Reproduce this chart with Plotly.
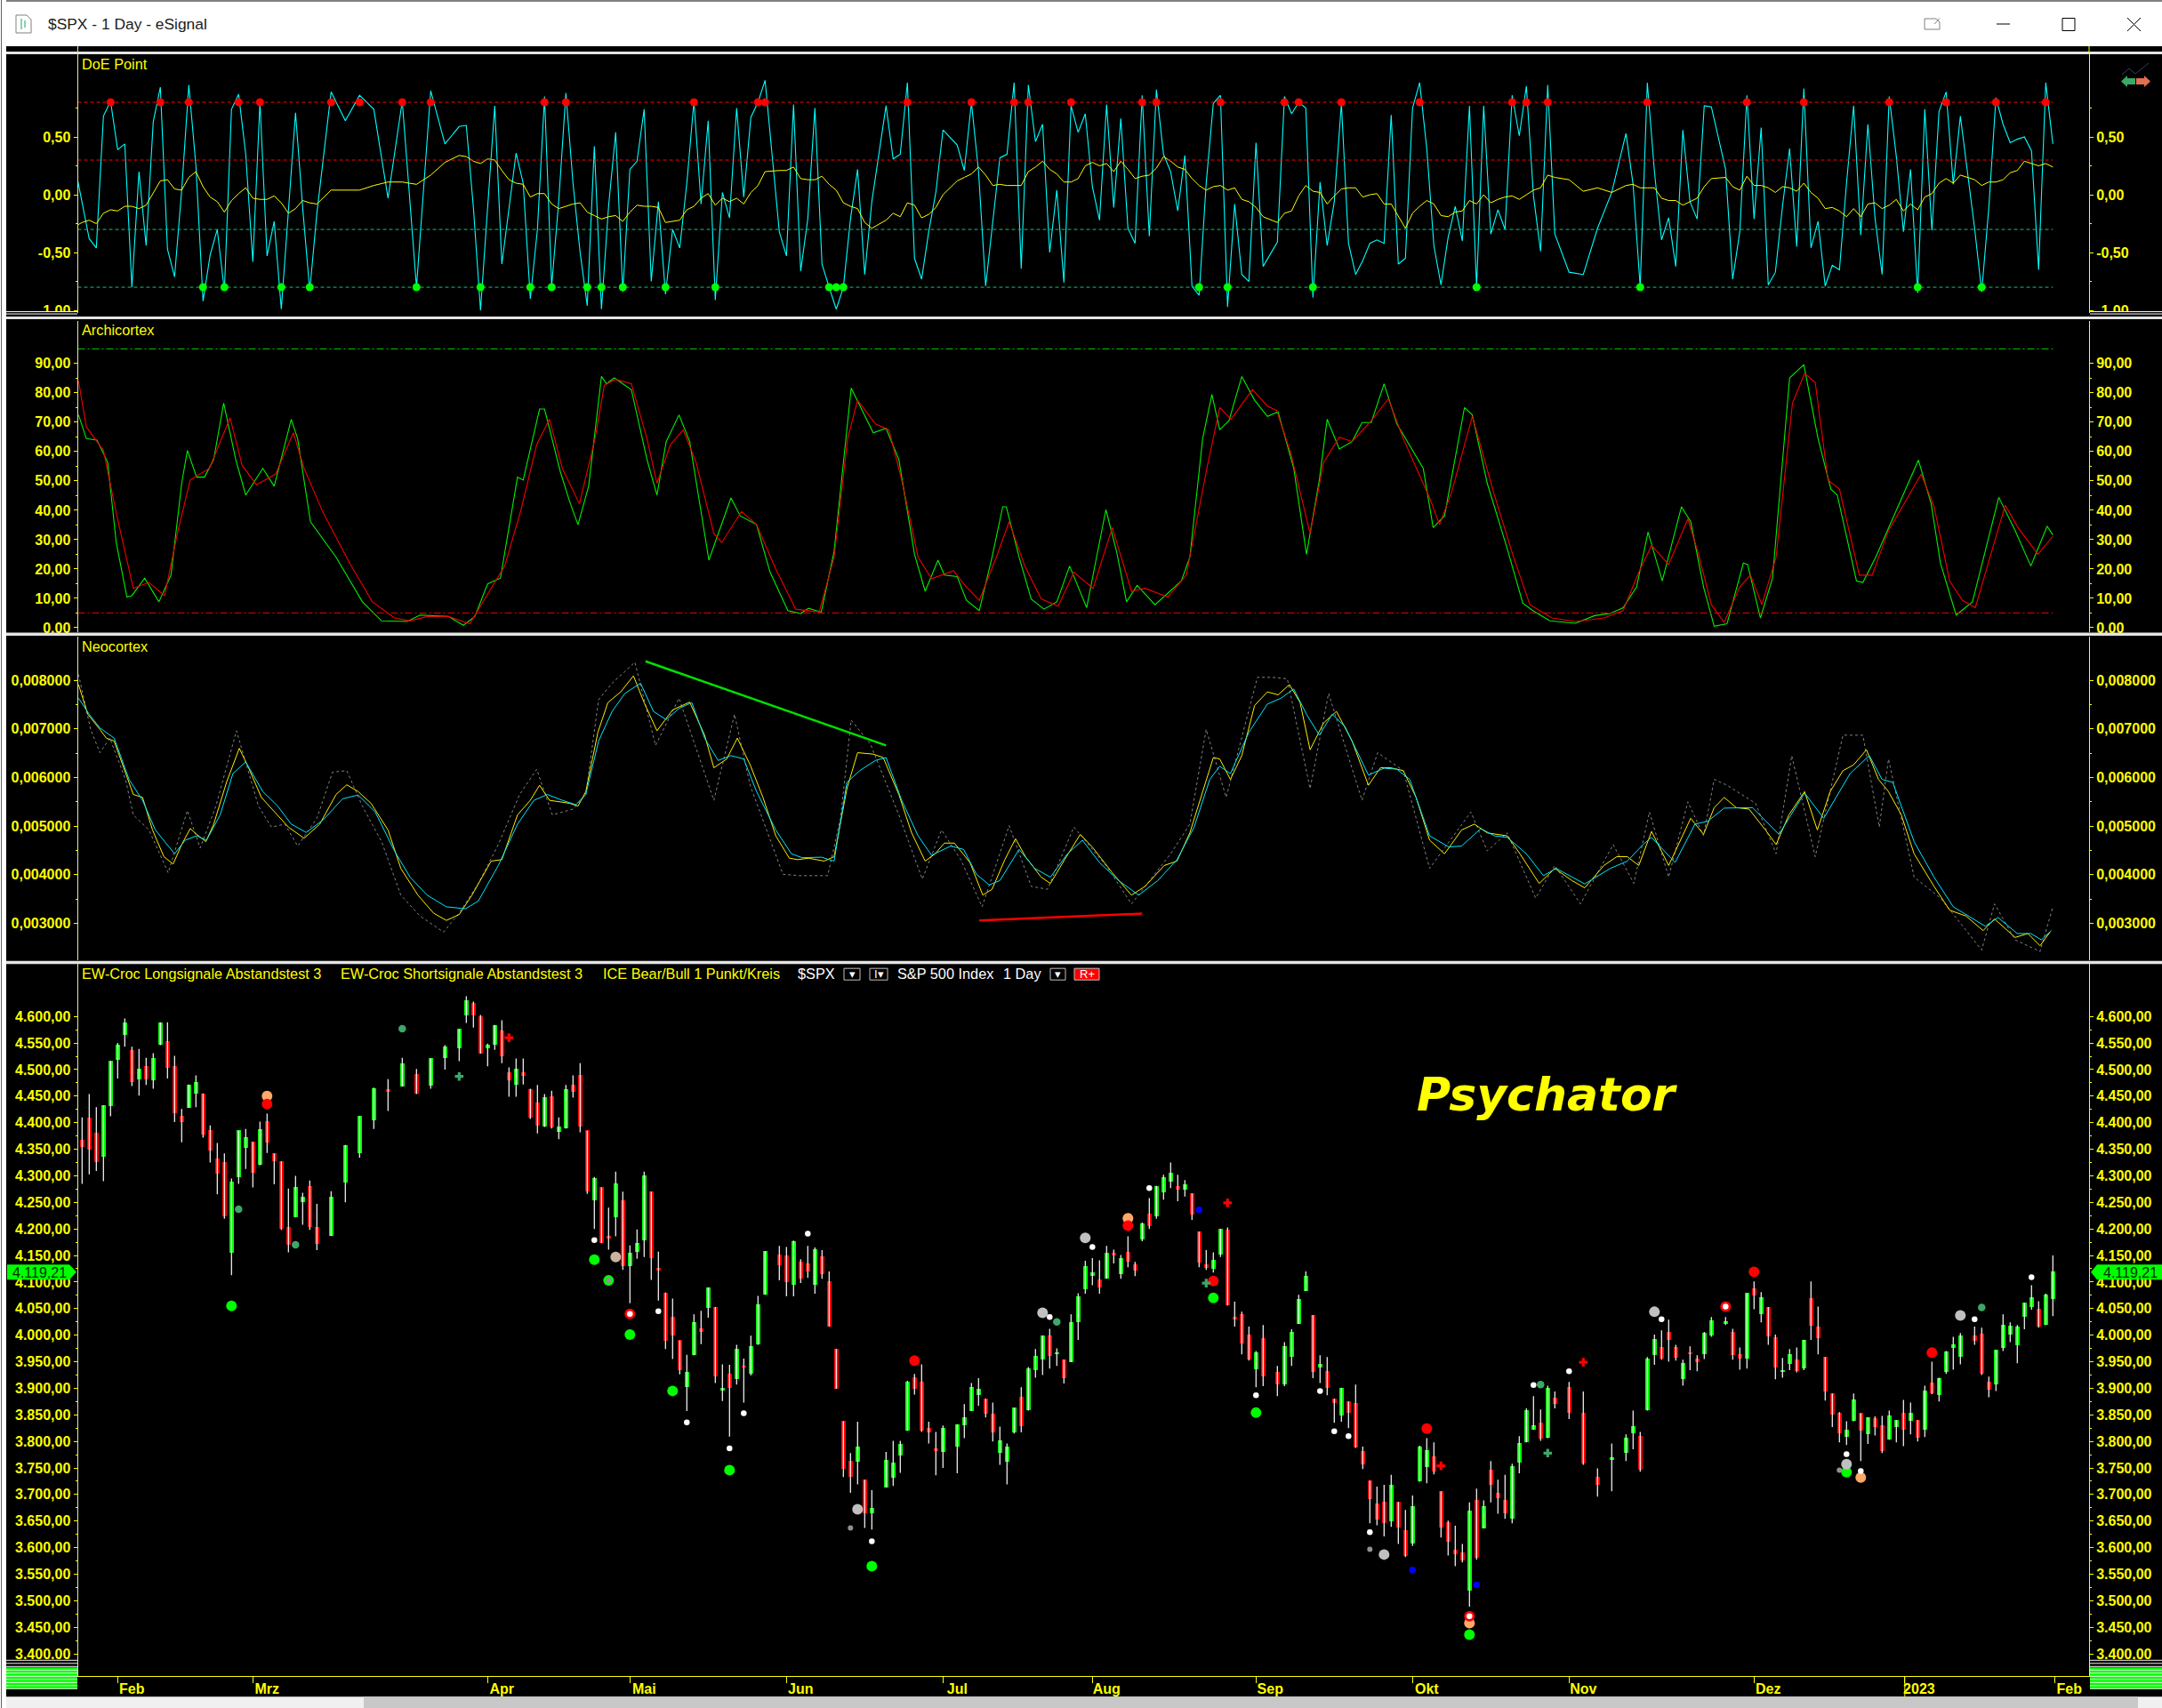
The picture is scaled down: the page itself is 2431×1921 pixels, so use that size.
import plotly.graph_objects as go

W, H = 2431, 1921
Y_SCALE = 1.0033   # the photographed page comes out a hair short vertically

# ---------------------------------------------------------------- data
slots = [*range(0, 34),
         35, 37, 39, 41, 43, 45, 47, 49, 51,
         *range(53, 97), *range(98, 112), *range(113, 122),
         *range(123, 167), *range(168, 208),
         209, 211, 213, 215,
         *range(217, 230), *range(231, 265), *range(266, 278)]

direction = ("rrrggggrgrggrrrggrrrrgggrgrrrrggrr" "ggggrgrgg"
             "ggrrggrrgrrrgrggrrrgrrgrgggrrrrrggrgrgrgrggg" "rrgrrgrrrrrgrg" "ggggrrrrg"
             "ggggrrgggrgggrgrggggrgrgrrgrgggrgrrrggrrrrgr"
             "rggggrgrrgrrrrrrgrrgggrrrrrgrgrrrggggrgr" "rrrg" "ggrggrrrgrrgg"
             "grrgrgrrggrgrrrrrggrgrrggrgrgrgggg" "rrrggggggrgg")

tops = [4367,4409,4380,4432,4516,4546,4589,4536,4501,4506,4521,4588,4553,4506,4412,4471,4476,4455,4385,4333,4325,4288,4385,4373,4364,4387,4402,4342,4327,4203,4278,4260,4280,4203,
        4261,4358,4412,4464,4462,4512,4492,4521,4543,
        4576,4631,4625,4600,4546,4583,4573,4494,4501,4494,4462,4437,4447,4449,4392,4462,4472,4489,4385,4296,4278,4186,4286,4253,4154,4174,4300,4270,4127,4080,4035,3990,3930,4024,4012,4089,4053,3900,3927,3974,3943,3979,4058,4158,
        4151,4150,4176,4138,4135,4161,4148,4101,3974,3838,3763,3790,3728,3674,
        3765,3760,3795,3912,3920,3912,3825,3786,3825,
        3832,3845,3902,3899,3880,3852,3801,3790,3863,3883,3937,3960,3999,3999,3967,3954,4024,4073,4130,4118,4104,4155,4155,4145,4156,4133,4210,4229,4281,4297,4306,4281,4284,4267,4195,4133,4142,4200,4199,4035,4040,4000,3967,3994,
        3931,3979,4006,4068,4111,4038,3945,3932,3880,3901,3875,3872,3781,3726,3683,3686,3718,3686,3633,3678,3790,3783,3771,3706,3648,3596,3590,3669,3689,3678,3746,3703,3689,3753,3797,3858,3830,3835,3901,3882,
        3902,3853,3733,3770,
        3806,3828,3810,3955,3992,3977,4006,3977,3947,3966,3955,4004,4027,
        4026,4006,3964,4079,4088,4071,4053,3996,3934,3964,3954,3991,4069,4016,3959,3890,3853,3822,3878,3853,3845,3843,3830,3848,3840,3853,3853,3840,3895,3910,3919,3969,3982,3999,
        3999,4002,3912,3972,4019,4017,4016,4061,4071,4049,4076,4119]

bottoms = [4354,4349,4325,4335,4431,4518,4565,4476,4481,4482,4479,4546,4503,4418,4401,4428,4454,4378,4347,4304,4223,4155,4297,4352,4305,4320,4362,4327,4200,4170,4222,4251,4203,4171,
           4187,4287,4343,4405,4459,4468,4454,4469,4521,
           4540,4602,4602,4530,4539,4546,4525,4479,4472,4488,4410,4395,4392,4390,4383,4389,4458,4392,4270,4253,4173,4183,4221,4130,4130,4157,4179,4145,4121,3989,3999,3934,3902,3962,4006,4051,3922,3897,3900,3917,3940,3927,3982,4076,
           4131,4099,4094,4106,4120,4094,4114,4016,3899,3748,3733,3761,3664,3664,
           3713,3731,3773,3820,3899,3820,3817,3783,3780,
           3790,3830,3857,3887,3852,3817,3778,3761,3817,3828,3858,3934,3954,3960,3964,3919,3949,4024,4086,4111,4089,4106,4150,4114,4138,4121,4180,4205,4224,4269,4289,4273,4273,4227,4136,4127,4125,4152,4056,4029,3984,3954,3936,3922,
           3907,3907,3959,4021,4083,3931,3939,3901,3872,3849,3853,3788,3756,3691,3653,3646,3649,3637,3584,3607,3724,3751,3743,3637,3611,3587,3576,3519,3581,3636,3718,3693,3664,3654,3760,3798,3822,3805,3806,3870,
           3853,3758,3718,3765,
           3778,3815,3746,3858,3962,3955,3991,3957,3917,3964,3949,3964,3999,
           4021,3962,3955,3955,4074,4039,3997,3939,3932,3945,3932,3937,4017,3994,3894,3850,3815,3808,3838,3820,3813,3827,3781,3803,3827,3822,3838,3806,3822,3890,3887,3930,3976,3959,
           3989,3927,3897,3907,3976,4001,3981,4034,4053,4016,4019,4068]

highs = [4410,4454,4429,4432,4516,4550,4596,4543,4539,4522,4531,4589,4589,4526,4426,4472,4489,4455,4395,4362,4342,4295,4385,4388,4364,4402,4417,4342,4327,4276,4300,4268,4291,4247,
         4271,4358,4412,4466,4482,4522,4501,4521,4546,
         4576,4638,4628,4603,4549,4584,4593,4504,4521,4521,4464,4471,4454,4460,4410,4471,4489,4512,4385,4298,4278,4240,4308,4270,4169,4199,4308,4270,4157,4080,4069,3990,3963,4039,4046,4090,4053,3945,3944,3982,3956,3999,4074,4158,
         4168,4166,4178,4143,4168,4165,4160,4120,3974,3838,3778,3837,3728,3708,
         3780,3801,3801,3914,3927,3945,3837,3818,3830,
         3832,3870,3910,3919,3880,3873,3828,3796,3863,3902,3940,3974,3999,4012,3975,3954,4039,4079,4140,4145,4141,4168,4161,4151,4186,4138,4212,4258,4281,4302,4325,4302,4292,4267,4195,4160,4156,4200,4203,4063,4044,4016,3970,4019,
         3942,3987,4011,4076,4120,4038,3962,3959,3880,3901,3875,3907,3790,3726,3715,3718,3737,3686,3671,3698,3792,3806,3798,3706,3651,3641,3607,3685,3711,3689,3763,3728,3737,3758,3810,3862,3885,3860,3905,3894,
         3912,3894,3749,3796,
         3813,3858,3818,3959,4001,4009,4029,3982,3954,3979,3962,4006,4034,
         4034,4012,3977,4079,4101,4081,4053,4001,3957,3974,3977,3991,4101,4054,3959,3890,3855,3838,3890,3853,3845,3847,3848,3858,3840,3878,3873,3840,3905,3950,3920,3970,3997,4004,
         4016,4014,3922,3972,4039,4024,4019,4061,4094,4064,4078,4150]

lows = [4285,4303,4309,4290,4412,4483,4543,4469,4451,4471,4464,4546,4483,4401,4363,4428,4429,4372,4325,4265,4219,4113,4285,4313,4278,4320,4343,4284,4198,4156,4222,4208,4198,4160,
        4187,4250,4334,4388,4422,4468,4454,4464,4500,
        4516,4588,4579,4530,4506,4537,4512,4449,4449,4472,4407,4380,4392,4389,4369,4389,4447,4382,4266,4200,4173,4161,4186,4123,4060,4144,4147,4104,4065,3974,3955,3926,3857,3962,3983,4033,3910,3876,3809,3907,3873,3924,3982,4076,
        4103,4073,4073,4098,4108,4078,4106,4016,3899,3733,3703,3719,3637,3634,
        3713,3716,3741,3820,3888,3818,3796,3736,3750,
        3740,3806,3857,3867,3845,3800,3756,3719,3815,3817,3858,3920,3925,3937,3942,3909,3949,3991,4078,4094,4078,4106,4135,4106,4128,4111,4177,4200,4219,4255,4277,4252,4261,4217,4128,4123,4118,4147,4056,4016,3964,3952,3902,3904,
        3885,3904,3942,4021,4083,3919,3910,3887,3835,3837,3825,3788,3748,3646,3642,3621,3639,3607,3582,3603,3724,3721,3738,3619,3585,3565,3572,3489,3577,3636,3685,3664,3654,3646,3740,3798,3822,3801,3806,3862,
        3842,3756,3696,3706,
        3763,3785,3743,3858,3944,3954,3950,3952,3905,3934,3932,3955,3997,
        4019,3954,3935,3937,4049,4024,3982,3917,3920,3934,3930,3934,3991,3964,3877,3827,3798,3793,3838,3763,3795,3811,3778,3803,3798,3791,3813,3800,3808,3889,3875,3927,3935,3945,
        3982,3925,3883,3895,3970,3987,3947,4011,4048,4014,4019,4036]

doe_cyan = [-.06,-.38,-.46,.68,.81,.39,.44,-.80,.20,-.44,.63,.93,-.47,-.71,.04,.95,.25,-.92,-.52,-.30,-.83,.74,.87,.35,-.58,.80,-.53,-.23,-.99,-.11,.71,-.11,-.83,-.16,
            .89,.64,.86,.74,-.03,.81,-.80,.90,.44,
            .59,.60,-.11,-1.0,-.11,.77,-.60,-.11,.36,.10,-.90,-.30,.85,-.79,-.05,.88,.10,-.50,-.96,.42,-.99,-.10,.54,-.84,.22,.29,.74,-.75,-.06,-.86,-.30,-.46,.10,.81,-.08,.64,-.91,.02,-.20,.75,-.02,.67,.80,.99,
            -.32,-.53,.78,-.66,-.21,.75,-.60,-.80,-.99,-.80,-.21,.22,-.69,-.06,
            .77,.31,.35,.97,-.55,-.73,-.32,.02,.56,
            .43,.21,.80,.20,-.79,-.21,.32,.35,.97,-.64,.95,.46,.61,-.50,.04,-.76,.77,.54,.70,.07,-.22,.78,-.11,.66,-.29,-.42,.86,-.36,.91,.35,.20,-.14,.34,-.79,-.87,.10,.79,.86,-.97,-.08,-.69,-.75,.45,-.62,
            -.41,.85,.70,.80,.75,-.89,.11,-.44,-.06,.79,-.42,-.69,-.57,-.42,-.39,-.42,.69,-.60,-.55,.75,.97,.40,-.44,-.78,-.37,-.10,-.40,.77,-.80,.77,-.34,-.13,-.30,.86,.51,.94,-.01,-.49,.95,-.34,
            -.67,-.69,-.29,.02,
            .53,.09,-.80,.97,.20,-.39,-.20,-.62,.56,-.06,-.21,.77,.76,
            .22,-.73,-.32,.86,-.21,.58,-.78,-.67,-.10,.40,-.45,.92,-.46,-.23,-.79,-.61,-.65,.10,.77,-.35,.61,-.20,-.69,.85,.33,-.32,.22,-.85,.74,-.31,.72,.89,.09,.68,
            -.29,-.84,-.11,.84,.61,.45,.48,.50,.38,-.65,.97,.44]

doe_yellow = [-.24,-.22,-.25,-.16,-.13,-.14,-.10,-.10,-.12,-.09,.02,.12,.13,.05,.04,.15,.20,.07,-.02,-.06,-.15,-.05,.01,.06,-.03,-.04,-.04,-.01,-.07,-.16,-.12,-.05,-.07,-.08,
              .04,.04,.04,.08,.11,.11,.09,.17,.28,
              .34,.33,.29,.27,.31,.30,.21,.13,.10,.09,-.02,.01,.01,-.08,-.12,-.10,-.08,-.07,-.15,-.18,-.21,-.19,-.18,-.23,-.15,-.09,-.10,-.10,-.11,-.24,-.23,-.22,-.13,-.10,-.03,.01,-.09,-.03,-.06,-.03,-.08,.02,.08,.20,
              .21,.21,.24,.14,.13,.13,.16,.09,.04,-.07,-.10,-.12,-.24,-.29,
              -.22,-.16,-.19,-.07,-.09,-.20,-.17,-.11,0.0,
              .12,.15,.18,.24,.17,.08,.09,.08,.08,.08,.20,.24,.29,.22,.18,.11,.11,.14,.25,.28,.25,.27,.20,.29,.22,.14,.16,.17,.23,.33,.29,.24,.22,.14,.08,.04,.07,.08,.04,.06,-.04,-.06,-.11,-.19,
              -.24,-.16,-.14,-.01,.08,.03,.02,-.08,-.01,.05,.06,.06,-.02,0,.01,-.08,-.08,-.18,-.29,-.16,-.10,-.05,-.08,-.18,-.19,-.15,-.14,-.05,-.08,0,-.07,-.04,-.02,-.01,-.04,0,.04,.06,.17,.15,
              .13,.03,.06,.02,
              .08,.09,.06,.06,.06,-.03,-.05,-.05,-.09,-.06,-.03,.07,.14,
              .15,.07,.04,.16,.08,.08,.06,.02,.07,.06,.03,.10,.02,-.03,-.12,-.11,-.14,-.19,-.12,-.19,-.08,-.07,-.12,-.09,-.04,-.14,-.08,-.13,-.02,.01,.10,.14,.10,.17,
              .13,.08,.11,.11,.13,.19,.21,.29,.27,.25,.27,.24]

doe_hi_slots = [4,11,15,22,25,35,39,45,49,65,68,86,95,96,116,125,131,133,139,149,151,160,169,171,177,188,201,203,206,220,234,242,254,262,269,276]
doe_lo_slots = [17,20,28,32,47,56,63,66,71,73,76,82,89,105,106,107,157,161,173,196,219,258,267]
doe_levels = [0.8, 0.3, -0.3, -0.8]

arch_green_x = [-.5,.6,2.1,3.6,4.8,6.3,7,8.8,10.8,12.5,14,14.8,16.1,17.2,18.5,19.9,21.6,23,25.4,27,29.4,30.3,32.1,35.7,39.4,42.1,45.7,47.5,51.5,53.6,55.2,57,58.8,61.2,62,64.3,65,67.2,68.5,69.7,71.2,73,73.7,74.8,77.2,79.4,80.8,82.1,83.9,85.4,88.1,91.2,92.5,94.8,96.7,99.2,101,102.1,103.9,105.7,108.1,109.9,111.2,113,114.8,117,118.5,120.3,121.2,123,124.3,126.1,127.9,129.4,129.9,131.7,133.4,135.2,137,138.8,141.2,143.9,145.4,146.8,148.3,150.8,154.5,155.7,157.5,158.8,159.9,161.2,163,164.8,166.6,168.1,170.3,172.1,173.9,175,176.7,178.5,179.9,181.2,183,184.8,187,188.5,189.9,191.5,194.3,195.4,197.5,200.3,202.5,203.9,206.3,209.9,212.6,214.8,216.6,218.5,220.1,222.1,224.8,226.1,227.9,229.4,231.2,233.5,234.1,235.9,237.6,240,242,244,245.8,246.7,249.4,250.3,252.1,258.1,259.9,261.2,263.4,265.7,269.4,271.7,273.9,276.2,277]
arch_green_y = [72.5,64.4,63.9,56.3,29,10.4,10.9,16.9,8.8,17.9,49.2,60.4,51.3,51.3,57.3,76.5,57.3,45.2,54.3,48.2,71,64.4,36.1,24,8.8,2.3,2.1,4.3,3.8,.8,3.8,14.9,16.9,51.3,50.3,74.5,74.5,53.3,43.2,35.1,48.2,85.6,83.1,85.1,81.1,57.3,45.2,63.4,72.5,63.4,23,44.2,38.1,35.1,18.9,5.8,4.8,6.6,5.3,26,81.6,72.5,66.4,67.9,57.3,25,12.4,23,17.9,17.4,9.3,5.8,24,41.2,41.2,24,9.8,6.3,8.8,21,6.8,40.2,26,8.8,14.4,7.8,15.9,24,64.4,79.5,67.4,70.5,85.6,77.5,72,73.5,54.3,25,50.3,71,60.9,63.4,69.9,69.9,83.1,69.4,60.4,54.3,34.1,38.1,75,72.5,49.2,27,8.3,5.8,2.3,1.5,4.1,4.8,6.8,13.9,32.6,15.9,41.2,36.1,13.9,.5,1.3,22,21.5,3.3,16.9,85.1,89.6,64.4,47.2,45.2,15.9,15.4,24,57.1,42.2,22,4.3,8.8,44.4,33.1,21,34.6,31.6]
arch_red_x = [-.5,.6,3,4.8,7.2,9.4,11.6,13.4,15.2,17.9,20.8,22.5,24.5,27.2,29.7,31.2,33.9,37.6,40.8,43.9,46.1,48.5,51.5,54.5,56.6,59.4,61.7,63.9,65.7,67.5,69.9,72.1,73.4,75,77.2,79.4,80.8,82.7,84.5,86.3,88.8,89.9,92.7,94.8,97.5,100.3,103.6,105.7,107.6,109,111.5,113.4,115.2,117.5,119.4,122.5,123.9,126.1,128.5,130.3,132.5,134.8,137.2,139.4,142.1,144.8,147.5,149.4,152.6,155.2,158.1,159.9,161.5,164.5,166.6,167.9,169.9,172.6,174.5,176.7,178.5,181.2,183.6,185.7,189.4,190.8,192.5,195.4,198.5,201.2,203.5,206.6,209.9,213.9,216.6,218.8,220.6,223,225.7,227.2,229,230.8,233,234.5,236.1,238.1,240.4,242.1,243.6,245.4,247,249.8,251.6,253.9,258.5,260.3,262.5,264.3,266.1,270.3,272.1,274.9,277]
arch_red_y = [84,68.4,60.4,39.1,13.4,15.4,10.9,32.1,50.3,54.3,71.5,55.3,48.7,52.3,66.4,54.3,39.1,22,8.8,3.3,2.3,3.8,3.8,1.3,9.8,21,40.2,62.4,71,54.3,42.2,64.4,82.6,84.6,83.1,64.4,49.2,62.4,67.4,56.3,32.1,29,39.6,35.1,20,6.3,5.3,24,64.4,77.5,69.4,67.4,50.3,24,16.7,19.4,14.9,9.3,24,36.1,21,9.8,7.3,18.9,13.4,34.1,12.4,13.4,10.4,17.9,54.3,75,71,81.1,75.5,74,59.3,32.1,56.3,64.9,63.4,70.5,78,64.4,44.2,35.1,46.2,72,45.2,24,7.8,3.3,2.1,3.3,5.8,18.9,28,21.5,37.1,25,7.8,1.8,13.9,17.9,7.8,24,76.5,86.6,83.6,50.3,47.2,17.9,17.9,33.1,52.3,41.2,15.9,9.3,6.8,41.7,34.1,25,31.1]
arch_levels = [95, 5]

neo_yellow_x = [-.5,.8,2.5,3.4,4.5,6.1,7.2,8.5,9.9,11.5,12.8,14,15.2,16.1,17.4,18.5,20.3,22.1,23.4,25.2,27.2,29,31.2,33.4,35.7,37.2,38.8,40.6,43,44.8,47.2,49.4,51.2,53,54.8,57.5,59,61.2,63,64.3,65.7,68.5,69.7,70.8,72.5,73.9,75.7,77.5,79,80.8,83,85.4,87.5,88.8,90.6,92.1,93.9,95.7,97.5,99.4,100.6,102.1,104.3,105.7,107.5,109,111.2,112.6,114.8,116.6,118.5,119.9,121.2,122.6,124.8,126.6,127.9,129.7,131.2,132.6,134.8,136.1,138.1,140.3,142.1,144.8,147.5,149.4,152.1,153.9,155.7,157.5,159,159.9,161.4,163,164.8,166.6,168.1,169.7,171.2,172.6,174.5,176.3,178.5,180.8,182.5,183.9,185.7,187.5,189.4,191.5,193.9,195.7,197.5,200.3,202.1,204.8,207,209.4,211.2,213.9,215.7,217.2,218.8,220.6,223,226.1,227.9,229.4,230.8,232.5,234.3,236.6,238.1,239.9,242.1,243.9,245.7,247.5,249,250.8,252.5,253.9,255.7,257.5,260.3,262.5,264.8,267.2,268.8,271.7,273.5,275.2,276.6]
neo_yellow_y = [7.91,7.30,6.99,6.81,6.75,6.08,5.65,5.59,4.92,4.37,4.22,4.62,4.95,4.83,4.68,5.04,5.90,6.60,6.20,5.59,5.26,4.98,4.75,5.04,5.65,5.85,5.71,5.47,4.92,4.13,3.58,3.21,3.06,3.18,3.58,4.28,4.31,5.23,5.53,5.84,5.53,5.47,5.41,5.71,6.93,7.54,7.76,8.09,7.54,6.96,7.39,7.55,6.87,6.20,6.38,6.81,6.26,5.59,4.80,4.34,4.31,4.34,4.28,4.37,5.77,6.51,6.48,6.41,5.65,4.86,4.28,4.43,4.65,4.65,4.25,3.58,3.70,4.31,4.74,4.37,3.95,3.82,4.31,4.83,4.55,4.04,3.58,3.76,4.19,4.28,4.86,5.71,6.41,6.38,5.96,6.45,7.48,7.76,7.70,7.91,7.54,6.57,7.12,7.36,6.75,5.84,6.20,6.20,6.14,5.59,4.71,4.43,4.92,5.04,4.86,4.80,4.43,3.82,4.13,3.88,3.73,4.19,4.37,4.37,4.19,4.89,4.19,5.16,4.83,5.38,5.59,5.38,5.35,4.92,4.62,5.23,5.71,4.92,5.71,6.14,6.26,6.57,5.96,5.71,5.23,4.43,3.76,3.27,3.15,2.85,3.09,2.71,2.79,2.54,2.82]
neo_cyan_x = [-.5,1,2.5,4.5,6.6,8.5,10.3,13,14.5,16.1,17.5,19.4,21.2,23,25.4,27.5,29.4,31.5,33.9,36.6,38.8,41.2,43.9,46.1,48.5,51.2,53.9,55.7,58.5,61.2,63.5,65.4,67.5,69.4,70.8,72.6,74.5,76.3,78.5,80.3,82.1,83.9,85.7,87.5,89.4,91.2,93,94.8,97.5,99.7,101.2,103.9,105.7,107.5,109.3,111.5,113,115.2,117.5,119.4,122.1,123.9,125.7,127.5,129,131.7,133.9,136.1,138.5,140.6,143,145.7,148.5,151.2,153.9,156.3,158.5,159.9,161.4,164,166.6,168.5,170.3,172.1,173.9,175.7,177.5,180.8,183,184.8,186.6,189.4,192.1,193.9,196.6,198.5,200.3,203,205.4,207.2,211.2,214.8,217.2,219.4,220.6,223.9,226.7,228.5,230.8,233,234.8,238.5,242.1,244.8,248.5,251.2,253,254.5,257.5,260.3,263,267.5,269.3,272,273.9,275.4,276.8]
neo_cyan_y = [7.63,7.30,7.02,6.81,5.96,5.53,4.92,4.43,4.71,4.80,4.71,5.23,6.08,6.32,5.71,5.41,5.04,4.87,5.13,5.56,5.64,5.29,4.49,3.95,3.58,3.34,3.30,3.46,4.19,5.04,5.53,5.65,5.53,5.44,5.65,6.75,7.36,7.73,7.94,7.36,7.19,7.42,7.54,6.81,6.35,6.45,6.38,5.71,4.92,4.43,4.35,4.36,4.28,5.90,6.14,6.35,6.41,5.53,4.80,4.40,4.59,4.52,4.01,3.79,3.88,4.52,4.13,3.95,4.43,4.71,4.25,3.88,3.58,3.88,4.31,4.98,5.96,6.23,6.08,6.93,7.51,7.63,7.82,7.30,6.87,7.30,7.05,6.05,6.19,6.17,5.96,4.80,4.57,4.59,4.95,4.80,4.77,4.43,3.98,4.13,3.81,4.13,4.28,4.62,4.77,4.25,5.04,5.10,5.37,5.38,5.38,4.83,5.68,5.16,6.08,6.45,5.96,5.90,4.68,3.95,3.34,2.94,3.12,2.79,2.79,2.66,2.85]
neo_grey_x = [-.5,1.2,2.5,3.9,6.1,7.2,9.4,12.1,14.8,16.6,18.8,21.7,24.8,26.6,28.5,30.3,33,35.2,37.2,39.4,42.1,44.8,47.5,50.8,53,55.7,58.5,61.5,63.9,66.1,69,70.8,72.6,74.5,77.7,80.6,83.9,88.8,91.7,93.9,98.5,100.8,104.8,106.6,108.1,110.8,114.8,118.1,120.8,123.5,126.5,130.3,133.4,135.7,139.4,143.9,147.5,153,155.7,158,160.8,165.2,167.2,169.4,172.6,175.2,179.9,182.1,185.7,189.4,195.2,197.5,200.3,204.3,207,210.6,215.2,218.1,220.3,223,225.7,227.9,229.4,231.2,235.2,238.1,240.3,243.6,247.5,250.3,252.6,253.9,257.5,261.2,267,268.8,271.7,275.2,277]
neo_grey_y = [8.12,6.99,6.51,6.81,5.96,5.23,4.92,4.04,5.32,4.55,5.41,6.96,5.41,4.98,5.04,4.59,5.16,6.11,6.14,5.41,4.68,3.58,3.15,2.82,3.21,3.82,4.62,5.65,6.17,5.23,5.35,5.65,7.60,7.94,8.37,6.66,7.63,5.53,7.30,5.84,4.01,3.98,3.98,5.16,7.18,6.69,5.23,3.91,4.92,4.31,3.34,5.01,3.76,3.70,4.98,4.19,3.40,4.43,5.04,6.99,5.59,8.06,8.06,8.03,5.77,7.73,5.53,6.51,6.14,4.13,5.29,4.49,4.86,3.52,4.19,3.40,4.62,3.82,5.29,3.95,5.50,4.80,5.96,5.84,5.47,4.43,6.45,4.37,6.87,6.87,4.98,6.38,3.95,3.52,2.45,3.40,2.66,2.42,3.34]
trend_green_x = [79.2, 113]
trend_green_y = [8.39, 6.66]
trend_red_x = [126.1, 149]
trend_red_y = [3.06, 3.20]

big_green_x = [21,72,74,77,83,91,111,159,165,195,248]
big_green_y = [4055,4142,4103,4001,3895,3746,3565,4070,3854,3436,3742]
big_red_x = [26,117,147,159,189,235,260,77,195,231]
big_red_y = [4435,3952,4206,4102,3824,4119,3967,4040,3471,4054]
big_orange_x = [26,147,195,250]
big_orange_y = [4450,4220,3458,3732]
big_grey_x = [109,135,141,183,221,248,264]
big_grey_y = [3672,4042,4183,3587,4044,3757,4037]
tan_x = [75]
tan_y = [4147]
small_white_x = [72,81,85,91,93,102,111,136,142,150,165,174,176,178,181,204,209,222,248,250,266,274,77,195,231]
small_white_y = [4179,4045,3836,3787,3853,4191,3612,4034,4166,4277,3887,3895,3819,3810,3629,3906,3932,4030,3776,3744,4030,4109,4040,3471,4054]
small_grey_x = [74,108,181,247]
small_grey_y = [4103,3637,3597,3746]
sea_x = [22,30,45,137,205,267]
sea_y = [4237,4170,4577,4025,3907,4052]
sea_plus_x = [53,158,206]
sea_plus_y = [4487,4098,3778]
red_plus_x = [60,161,191,211]
red_plus_y = [4560,4249,3754,3949]
blue_x = [157,187,196]
blue_y = [4236,3558,3530]

month_slots = [5,24,57,77,99,121,142,165,187,209,235,256.2,277.3]
month_labels = ["Feb","Mrz","Apr","Mai","Jun","Jul","Aug","Sep","Okt","Nov","Dez","2023","Feb"]

doe_ticks = [0.5, 0.0, -0.5, -1.0]
doe_ticktext = ["0,50", "0,00", "-0,50", "-1,00"]
doe_minor = [0.75, 0.25, -0.25, -0.75]
arch_ticks = [90,80,70,60,50,40,30,20,10,0]
arch_ticktext = ["90,00","80,00","70,00","60,00","50,00","40,00","30,00","20,00","10,00","0,00"]
arch_minor = [85,75,65,55,45,35,25,15,5]
neo_ticks = [8,7,6,5,4,3]
neo_ticktext = ["0,008000","0,007000","0,006000","0,005000","0,004000","0,003000"]
neo_minor = [7.5,6.5,5.5,4.5,3.5]
price_ticks = list(range(3400, 4601, 50))
price_ticktext = [f"{v//1000}.{v%1000:03d},00" for v in price_ticks]
price_minor = list(range(3425, 4600, 50))

assert len(slots) == len(direction) == len(tops) == len(bottoms) == len(highs) == len(lows) == len(doe_cyan) == len(doe_yellow)

# ---------------------------------------------------------------- helpers
YEL = "#ffff00"
GRN = "#00ff00"
RED = "#ff0000"
CYAN = "#00ffff"
SEA = "#3ca868"
X0, X1 = 87.5, 2349.0
XR = [-0.6, 282.09]
FONT = "Liberation Sans"
TICKFONT = dict(family=FONT, size=16, color=YEL, weight=700)

def fx(p): return p / W
def fy(p): return 1 - p * Y_SCALE / H
def rect(x0, y0, x1, y1, color, line=None):
    return dict(type="rect", xref="paper", yref="paper", x0=fx(x0), x1=fx(x1), y0=fy(y0), y1=fy(y1),
                fillcolor=color, line=dict(width=0 if line is None else 1, color=line or color))
def seg(x0, y0, x1, y1, color, width=1):
    return dict(type="line", xref="paper", yref="paper", x0=fx(x0), x1=fx(x1), y0=fy(y0), y1=fy(y1),
                line=dict(color=color, width=width))
def poly(points, color, line=None, close=True):
    d = "M" + " L".join(f"{fx(a):.5f},{fy(b):.5f}" for a, b in points) + (" Z" if close else "")
    return dict(type="path", xref="paper", yref="paper", path=d,
                fillcolor=color if close else "rgba(0,0,0,0)",
                line=dict(width=1 if line else 0, color=line or color))
def label(x, y, text, color=YEL, size=16.3, anchor="left", family=FONT, **kw):
    return dict(xref="paper", yref="paper", x=fx(x), y=fy(y), text=text, showarrow=False, xanchor=anchor,
                yanchor="middle", font=dict(family=family, size=size, color=color), **kw)

fig = go.Figure()
def line(x, y, xa, ya, color, width=1.1, dash=None):
    fig.add_trace(go.Scatter(x=x, y=y, xaxis=xa, yaxis=ya, mode="lines",
                             line=dict(color=color, width=width, dash=dash), hoverinfo="skip", showlegend=False))
def dots(x, y, xa, ya, color, size, symbol="circle"):
    fig.add_trace(go.Scatter(x=x, y=y, xaxis=xa, yaxis=ya, mode="markers",
                             marker=dict(color=color, size=size, symbol=symbol, line=dict(width=0)),
                             hoverinfo="skip", showlegend=False))

# panel 1: DoE Point
line([-0.6] + slots, [0.12] + doe_cyan, "x", "y", CYAN)
line([-0.6] + slots, [-0.26] + doe_yellow, "x", "y", YEL, 1)
for lvl, col in zip(doe_levels, [RED, RED, "#20c070", "#20c070"]):
    line(XR[:1] + [277], [lvl, lvl], "x", "y5", col, 1, "4px,3px")
dots(doe_hi_slots, [doe_levels[0]] * len(doe_hi_slots), "x", "y5", RED, 9)
dots(doe_lo_slots, [doe_levels[3]] * len(doe_lo_slots), "x", "y5", GRN, 9)

# panel 2: Archicortex
line(arch_green_x, arch_green_y, "x2", "y2", "#00f000")
line(arch_red_x, arch_red_y, "x2", "y2", "#f00000")
line(XR[:1] + [277], [arch_levels[0]] * 2, "x2", "y6", "#00d000", 1, "8px,3px,2px,3px")
line(XR[:1] + [277], [arch_levels[1]] * 2, "x2", "y6", "#f00000", 1, "8px,3px,2px,3px")

# panel 3: Neocortex
line(neo_grey_x, neo_grey_y, "x3", "y3", "#848484", 1, "3px,3px")
line(neo_yellow_x, neo_yellow_y, "x3", "y3", "#ffee00", 1)
line(neo_cyan_x, neo_cyan_y, "x3", "y3", "#00e8ff", 1)
line(trend_green_x, trend_green_y, "x3", "y7", "#00e000", 2.5)
line(trend_red_x, trend_red_y, "x3", "y7", RED, 2.5)

# panel 4: price candles
wx, wy = [], []
for s, h, l in zip(slots, highs, lows):
    wx += [s, s, None]
    wy += [l, h, None]
line(wx, wy, "x4", "y4", "#ffffff", 1.2)
for code, col in (("g", GRN), ("r", RED)):
    idx = [i for i, d in enumerate(direction) if d == code]
    fig.add_trace(go.Bar(x=[slots[i] for i in idx],
                         y=[max(tops[i] - bottoms[i], 1.5) for i in idx],
                         base=[bottoms[i] for i in idx],
                         width=0.64, marker=dict(color=col, line=dict(width=0)),
                         xaxis="x4", yaxis="y4", hoverinfo="skip", showlegend=False))
dots(big_green_x, big_green_y, "x4", "y8", GRN, 12)
dots(big_orange_x, big_orange_y, "x4", "y8", "#ffa868", 12)
dots(big_red_x, big_red_y, "x4", "y8", RED, 12)
dots(big_grey_x, big_grey_y, "x4", "y8", "#c0c0c0", 12)
dots(tan_x, tan_y, "x4", "y8", "#c8b4a0", 12)
dots(small_grey_x, small_grey_y, "x4", "y8", "#909090", 6)
dots(small_white_x, small_white_y, "x4", "y8", "#ffffff", 6.5)
dots(sea_x, sea_y, "x4", "y8", SEA, 8.5)
dots(sea_plus_x, sea_plus_y, "x4", "y8", SEA, 8, "cross")
dots(red_plus_x, red_plus_y, "x4", "y8", RED, 8, "cross")
dots(blue_x, blue_y, "x4", "y8", "#0000ff", 7.5)

# ---------------------------------------------------------------- axes
XDOM = [fx(X0), fx(X1)]
def xaxis(anchor, visible=False, **kw):
    return dict(domain=XDOM, range=XR, anchor=anchor, showgrid=False, zeroline=False, visible=visible, **kw)
def yaxis(top, bottom, rng, ticks, text, minor, side, anchor, overlay=None):
    a = dict(domain=[fy(bottom), fy(top)], range=rng, anchor=anchor, side=side, showgrid=False, zeroline=False,
             tickmode="array", tickvals=ticks, ticktext=text, ticks="outside", ticklen=4, tickcolor=YEL,
             showline=True, linecolor=YEL if side == "right" else "#e8e8b0", linewidth=1,
             tickfont=TICKFONT,
             minor=dict(tickmode="array", tickvals=minor, ticks="outside", ticklen=2, tickcolor=YEL, showgrid=False))
    if overlay:
        a["overlaying"] = overlay
    return a

P1 = (61, 352, [-(352 - 219) / 130, (219 - 61) / 130])
P2 = (361, 711, [5 + (689.3 - 711) / 3.3, 5 + (689.3 - 361) / 3.3])
P3 = (716, 1080, [3 + (1038.3 - 1080) / 54.67, 3 + (1038.3 - 716) / 54.67])
P4 = (1084, 1885, [3850 + (1591 - 1885) / 0.5973, 3850 + (1591 - 1084) / 0.5973])

layout = dict(
    width=W, height=H, margin=dict(l=0, r=0, t=0, b=0, pad=0), autosize=False,
    paper_bgcolor="#000000", plot_bgcolor="#000000", showlegend=False, hovermode=False,
    barmode="overlay", bargap=0,
    xaxis=xaxis("y"), xaxis2=xaxis("y2"), xaxis3=xaxis("y3"),
    xaxis4=xaxis("y4", True, tickmode="array", tickvals=month_slots, ticktext=month_labels, ticks="outside",
                 ticklen=7, tickcolor=YEL, showline=True, linecolor=YEL, linewidth=1, ticklabelshift=16,
                 ticklabelstandoff=-8, tickfont=TICKFONT, tickangle=0),
    yaxis=yaxis(P1[0], P1[1], P1[2], doe_ticks, doe_ticktext, doe_minor, "left", "x"),
    yaxis2=yaxis(P2[0], P2[1], P2[2], arch_ticks, arch_ticktext, arch_minor, "left", "x2"),
    yaxis3=yaxis(P3[0], P3[1], P3[2], neo_ticks, neo_ticktext, neo_minor, "left", "x3"),
    yaxis4=yaxis(P4[0], P4[1], P4[2], price_ticks, price_ticktext, price_minor, "left", "x4"),
    yaxis5=yaxis(P1[0], P1[1], P1[2], doe_ticks, doe_ticktext, doe_minor, "right", "x", "y"),
    yaxis6=yaxis(P2[0], P2[1], P2[2], arch_ticks, arch_ticktext, arch_minor, "right", "x2", "y2"),
    yaxis7=yaxis(P3[0], P3[1], P3[2], neo_ticks, neo_ticktext, neo_minor, "right", "x3", "y3"),
    yaxis8=yaxis(P4[0], P4[1], P4[2], price_ticks, price_ticktext, price_minor, "right", "x4", "y4"),
)

# ---------------------------------------------------------------- window chrome
SEP = "#e4e4e4"
shapes = [
    rect(0, 0, W, 52, "#ffffff"), rect(0, 0, W, 2, "#808080"),
    rect(0, 0, 7, H, "#ffffff"), seg(1.5, 0, 1.5, H, "#606060"),
    rect(7, 52, W, 58, "#000000"),
    rect(7, 58, W, 61, SEP),
    rect(7, 350, 87, 356, "#000000"), rect(2350, 350, W, 356, "#000000"),
    seg(7, 350.5, 87, 350.5, "#ffffff"), seg(7, 353, 87, 353, "#ffffff"),
    seg(2350, 350.5, W, 350.5, "#ffffff"), seg(2350, 353, W, 353, "#ffffff"),
    rect(7, 356, W, 359, SEP), rect(7, 711.5, W, 715, SEP), rect(7, 1080.5, W, 1084, SEP),
    seg(87.5, 52, 87.5, 60, "#e8e8b0"), seg(2349, 52, 2349, 60, YEL),
    seg(2141.8, 1885, 2141.8, 1908, YEL),
    # price badges
    poly([(8, 1422), (78, 1422), (86, 1430.5), (78, 1439), (8, 1439)], GRN),
    poly([(W, 1422), (2358, 1422), (2351, 1430.5), (2358, 1439), (W, 1439)], GRN),
    # corner blocks
    rect(7, 1866, 87, 1908, "#000000"), rect(2350, 1866, W, 1908, "#000000"),
    rect(7, 1875, 87, 1899, GRN), rect(2350, 1875, W, 1899, GRN),
    # scrollbar
    rect(7, 1908, W, H, "#f0f0f0"), rect(409, 1908, 2404, H, "#c8c8c8"),
    # title-bar icons
    poly([(18, 17), (30, 17), (35, 22), (35, 37), (18, 37)], "#ffffff", "#808080"),
    seg(24, 21, 24, 33, "#20a060"), seg(28, 23, 28, 31, "#20a060"),
    poly([(2177, 21), (2164, 21), (2164, 33), (2181, 33), (2181, 25)], "#ffffff", "#808080"),
    seg(2175, 27, 2181, 20.5, "#808080"),
    seg(2245, 27, 2260, 27, "#000000"),
    rect(2319, 20.5, 2333, 34.5, "#ffffff", "#000000"),
    seg(2392, 20, 2407, 35, "#000000"), seg(2392, 35, 2407, 20, "#000000"),
    # chart-type glyph top right
    poly([(2386, 84), (2394, 77), (2401, 83), (2416, 71)], "#000000", "#304060", close=False),
    poly([(2385, 91.5), (2392, 85), (2392, 88), (2401, 88), (2401, 95), (2392, 95), (2392, 98)], "#3ca868"),
    poly([(2418, 91.5), (2411, 85), (2411, 88), (2402, 88), (2402, 95), (2411, 95), (2411, 98)], "#e07050"),
    # toolbar boxes in the price panel header
    rect(949, 1089, 967, 1102, "#000000", "#c0c0c0"), rect(978, 1089, 998, 1102, "#000000", "#c0c0c0"),
    rect(1181, 1089, 1198, 1102, "#000000", "#c0c0c0"), rect(1208, 1089, 1236, 1102, RED, "#c0c0c0"),
]
for yy in (1867, 1870.5, 1874, 1878, 1881.5, 1885, 1888.5, 1892, 1895.5, 1899):
    shapes.append(seg(7, yy, 87, yy, "#f0f0f0"))
    shapes.append(seg(2350, yy, W, yy, "#f0f0f0"))
layout["shapes"] = shapes

layout["annotations"] = [
    label(52, 27, "$SPX - 1 Day - eSignal", "#202020", 17.4),
    label(90, 72, "DoE Point"),
    label(90, 371, "Archicortex"),
    label(90, 727, "Neocortex"),
    label(90, 1095, "EW-Croc Longsignale Abstandstest 3"),
    label(381, 1095, "EW-Croc Shortsignale Abstandstest 3"),
    label(676, 1095, "ICE Bear/Bull 1 Punkt/Kreis"),
    label(895, 1095, "$SPX", "#ffffff"),
    label(958, 1095, "▾", "#ffffff", 13, "center"),
    label(988, 1095, "I▾", "#ffffff", 13, "center"),
    label(1007, 1095, "S&P 500 Index", "#ffffff"),
    label(1126, 1095, "1 Day", "#ffffff"),
    label(1189.5, 1095, "▾", "#ffffff", 13, "center"),
    label(1222, 1095, "R+", "#ffffff", 13, "center"),
    label(1591, 1231, "<b><i>Psychator</i></b>", YEL, 52, family="DejaVu Sans"),
    label(44, 1431, "4.119,21", "#003000", 16, "center"),
    label(2395, 1431, "4.119,21", "#003000", 16, "center"),
]
fig.update_layout(**layout)

fig.write_html(
    "out.html",
    config={"displayModeBar": False},
    post_script="document.documentElement.style.margin='0';document.documentElement.style.overflow='hidden';"
                "document.body.style.margin='0';document.body.style.overflow='hidden';"
                "document.body.style.height='1921px';"
                "var g=document.querySelector('.plotly-graph-div');if(g){g.style.display='block';}",
)
